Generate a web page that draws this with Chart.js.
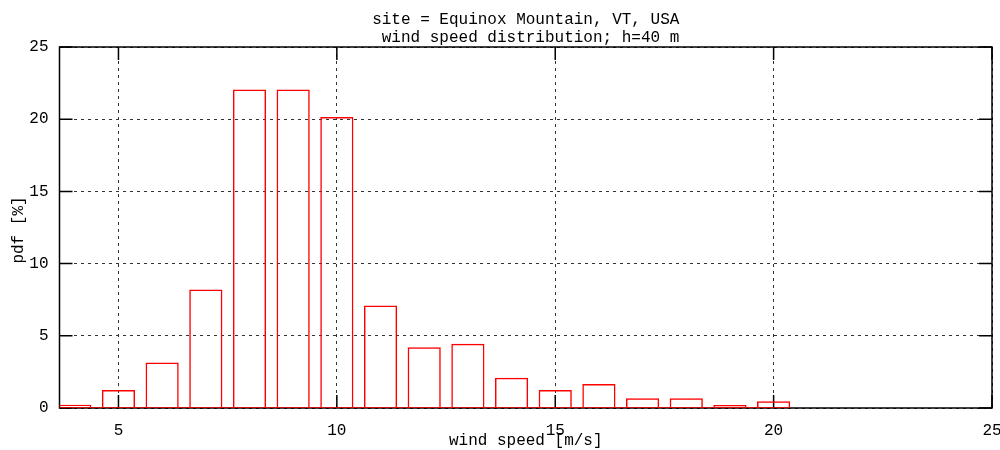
<!DOCTYPE html>
<html>
<head>
<meta charset="utf-8">
<title>Equinox Mountain - wind speed distribution</title>
<script src="https://cdn.jsdelivr.net/npm/chart.js@4.4.1/dist/chart.umd.min.js"></script>
<style>
  html, body { margin: 0; padding: 0; background: #fff; }
</style>
</head>
<body>
<canvas id="chart" width="1000" height="450"></canvas>
<script>
// Dados do grafico
const windSpeeds = [4, 5, 6, 7, 8, 9, 10, 11, 12, 13, 14, 15, 16, 17, 18, 19, 20];
const pdfValues = [0.23, 1.25, 3.15, 8.2, 22.05, 22.05, 20.15, 7.1, 4.2, 4.45, 2.1, 1.25, 1.67, 0.67, 0.67, 0.21, 0.46];
const xTicks = [5, 10, 15, 20, 25];
const yTicks = [0, 5, 10, 15, 20, 25];
const titleLines = ["site = Equinox Mountain, VT, USA", " wind speed distribution; h=40 m"];
const xTitle = "wind speed [m/s]";
const yTitle = "pdf [%]";

const xMin = 3.65;
const xMax = 25;
const boxWidth = 0.76;
const FONT = "16px 'Liberation Mono', 'DejaVu Sans Mono', monospace";

// Moldura estilo gnuplot, com ticks para dentro
const frame = {
  id: "frame",
  beforeDatasetsDraw(chart) {
    const ctx = chart.ctx;
    const a = chart.chartArea;
    const xs = chart.scales.x;
    const ys = chart.scales.y;
    ctx.save();
    ctx.strokeStyle = "#000";
    ctx.lineWidth = 1.5;
    ctx.strokeRect(a.left, a.top, a.right - a.left, a.bottom - a.top);
    ctx.beginPath();
    xTicks.forEach(function (v) {
      const px = xs.getPixelForValue(v);
      ctx.moveTo(px, a.bottom);
      ctx.lineTo(px, a.bottom - 13);
      ctx.moveTo(px, a.top);
      ctx.lineTo(px, a.top + 13);
    });
    yTicks.forEach(function (v) {
      const py = ys.getPixelForValue(v);
      ctx.moveTo(a.left, py);
      ctx.lineTo(a.left + 13, py);
      ctx.moveTo(a.right, py);
      ctx.lineTo(a.right - 13, py);
    });
    ctx.stroke();
    ctx.restore();
  },
  afterDraw(chart) {
    const ctx = chart.ctx;
    const a = chart.chartArea;
    const cx = (a.left + a.right) / 2;
    ctx.save();
    ctx.fillStyle = "#000";
    ctx.font = FONT;
    ctx.textAlign = "center";
    ctx.textBaseline = "middle";
    ctx.fillText(titleLines[0], cx, 20);
    ctx.fillText(titleLines[1], cx, 38);
    ctx.fillText(xTitle, cx, 441);
    ctx.translate(19, 230);
    ctx.rotate(-Math.PI / 2);
    ctx.fillText(yTitle, 0, 0);
    ctx.restore();
  }
};

const bars = windSpeeds.map(function (s, i) {
  return { x: s, y: pdfValues[i] };
});
const baseline = [
  { x: xMin, y: 0 },
  { x: windSpeeds[windSpeeds.length - 1] + boxWidth / 2, y: 0 }
];

new Chart(document.getElementById("chart"), {
  type: "bar",
  data: {
    datasets: [
      {
        type: "line",
        data: baseline,
        borderColor: "#ff0000",
        borderWidth: 1.5,
        pointRadius: 0,
        order: 0
      },
      {
        data: bars,
        backgroundColor: "rgba(0,0,0,0)",
        borderColor: "#ff0000",
        borderWidth: 1.5,
        borderSkipped: "start",
        barPercentage: boxWidth,
        categoryPercentage: 1,
        order: 1
      }
    ]
  },
  plugins: [frame],
  options: {
    responsive: false,
    animation: false,
    devicePixelRatio: 1,
    layout: { padding: { top: 47, right: 8, left: 0, bottom: 0 } },
    plugins: {
      legend: { display: false },
      tooltip: { enabled: false }
    },
    scales: {
      x: {
        type: "linear",
        min: xMin,
        max: xMax,
        offset: false,
        afterBuildTicks: function (scale) {
          scale.ticks = xTicks.map(function (v) { return { value: v }; });
        },
        afterFit: function (scale) {
          scale.height = 42;
          scale.paddingLeft = 0;
          scale.paddingRight = 0;
        },
        grid: { color: "#333", lineWidth: 1, drawTicks: false, offset: false },
        border: { display: false, dash: [3, 4] },
        ticks: { color: "#000", font: { family: "'Liberation Mono', monospace", size: 16 }, padding: 13, maxRotation: 0 }
      },
      y: {
        min: 0,
        max: 25,
        afterBuildTicks: function (scale) {
          scale.ticks = yTicks.map(function (v) { return { value: v }; });
        },
        afterFit: function (scale) {
          scale.width = 59.5;
          scale.paddingTop = 0;
          scale.paddingBottom = 0;
        },
        grid: { color: "#333", lineWidth: 1, drawTicks: false },
        border: { display: false, dash: [3, 4] },
        ticks: { color: "#000", font: { family: "'Liberation Mono', monospace", size: 16 }, padding: 11 }
      }
    }
  }
});
</script>
</body>
</html>
